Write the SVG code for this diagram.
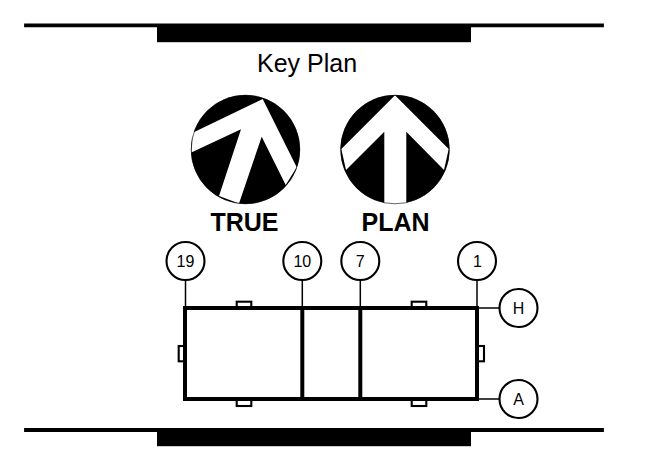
<svg xmlns="http://www.w3.org/2000/svg" width="645" height="462" viewBox="0 0 645 462">
<style>
text{font-family:"Liberation Sans",Arial,sans-serif;fill:#000;text-anchor:middle}
.title{font-size:25px}
.lab{font-size:25px;font-weight:bold}
.bub{fill:#fff;stroke:#000;stroke-width:2.1}
.bt{font-size:16px}
.lead{stroke:#000;stroke-width:1.5;fill:none}
.wall{stroke:#000;stroke-width:4;fill:none;stroke-linecap:square}
.tab{fill:#fff;stroke:#000;stroke-width:2.1}
.bar{stroke:#000;stroke-width:3.8;stroke-linecap:square}
</style>
<rect width="645" height="462" fill="#fff"/>
<g id="border-top"><line class="bar" x1="26" y1="25.4" x2="602" y2="25.4"/><rect x="157" y="24" width="314" height="18.2"/></g>
<g id="border-bottom"><line class="bar" x1="26" y1="430" x2="602" y2="430"/><rect x="157" y="428.5" width="314" height="17.7"/></g>
<text class="title" x="307" y="72">Key Plan</text>
<g id="north-true">
<circle cx="245.5" cy="149.5" r="54.5"/>
<polygon fill="#fff" points="262.7,99 192.7,132.7 191.3,152.5 241,129.3 219,196 239,203.5 261.7,136.7 285.7,185 296.7,167.3"/>
<circle cx="245.5" cy="149.5" r="54.3" fill="none" stroke="#000" stroke-width="0.6"/>
<text class="lab" x="244.5" y="230.7">TRUE</text>
</g>
<g id="north-plan">
<circle cx="395" cy="149.5" r="54.5"/>
<polygon fill="#fff" points="395,95.3 341.3,149 346,170 384.3,131.7 384.3,204 406.3,204 406.3,131.7 444,170 448.7,149"/>
<circle cx="395" cy="149.5" r="54.3" fill="none" stroke="#000" stroke-width="0.6"/>
<text class="lab" x="395.5" y="230.7">PLAN</text>
</g>
<g id="connectors">
<line class="lead" x1="185.5" y1="280" x2="185.5" y2="308"/>
<line class="lead" x1="302.3" y1="280" x2="302.3" y2="308"/>
<line class="lead" x1="360.3" y1="280" x2="360.3" y2="308"/>
<line class="lead" x1="477" y1="280" x2="477" y2="308"/>
<line class="lead" x1="477" y1="308" x2="499" y2="308"/>
<line class="lead" x1="477" y1="399" x2="499" y2="399"/>
</g>
<g id="plan">
<rect class="tab" x="236.7" y="301.7" width="14.6" height="6.3"/>
<rect class="tab" x="411.7" y="301.7" width="14.6" height="6.3"/>
<rect class="tab" x="236.7" y="399" width="14.6" height="7"/>
<rect class="tab" x="411.7" y="399" width="14.6" height="7"/>
<rect class="tab" x="178.7" y="346" width="6.3" height="15.3"/>
<rect class="tab" x="477" y="346" width="7" height="15.3"/>
<rect class="wall" x="185" y="308" width="292" height="91"/>
<line class="wall" x1="302.3" y1="308" x2="302.3" y2="399"/>
<line class="wall" x1="360.3" y1="308" x2="360.3" y2="399"/>
</g>
<g id="grid-19"><circle class="bub" cx="185.5" cy="261" r="19"/><text class="bt" x="185.5" y="266.7">19</text></g>
<g id="grid-10"><circle class="bub" cx="302.3" cy="261" r="19"/><text class="bt" x="302.3" y="266.7">10</text></g>
<g id="grid-7"><circle class="bub" cx="360.3" cy="261" r="19"/><text class="bt" x="360.3" y="266.7">7</text></g>
<g id="grid-1"><circle class="bub" cx="477" cy="261" r="19"/><text class="bt" x="477.5" y="266.7">1</text></g>
<g id="grid-H"><circle class="bub" cx="518.5" cy="308" r="19"/><text class="bt" x="518.5" y="313.5">H</text></g>
<g id="grid-A"><circle class="bub" cx="518.5" cy="399" r="19"/><text class="bt" x="518.5" y="404.7">A</text></g>
</svg>
